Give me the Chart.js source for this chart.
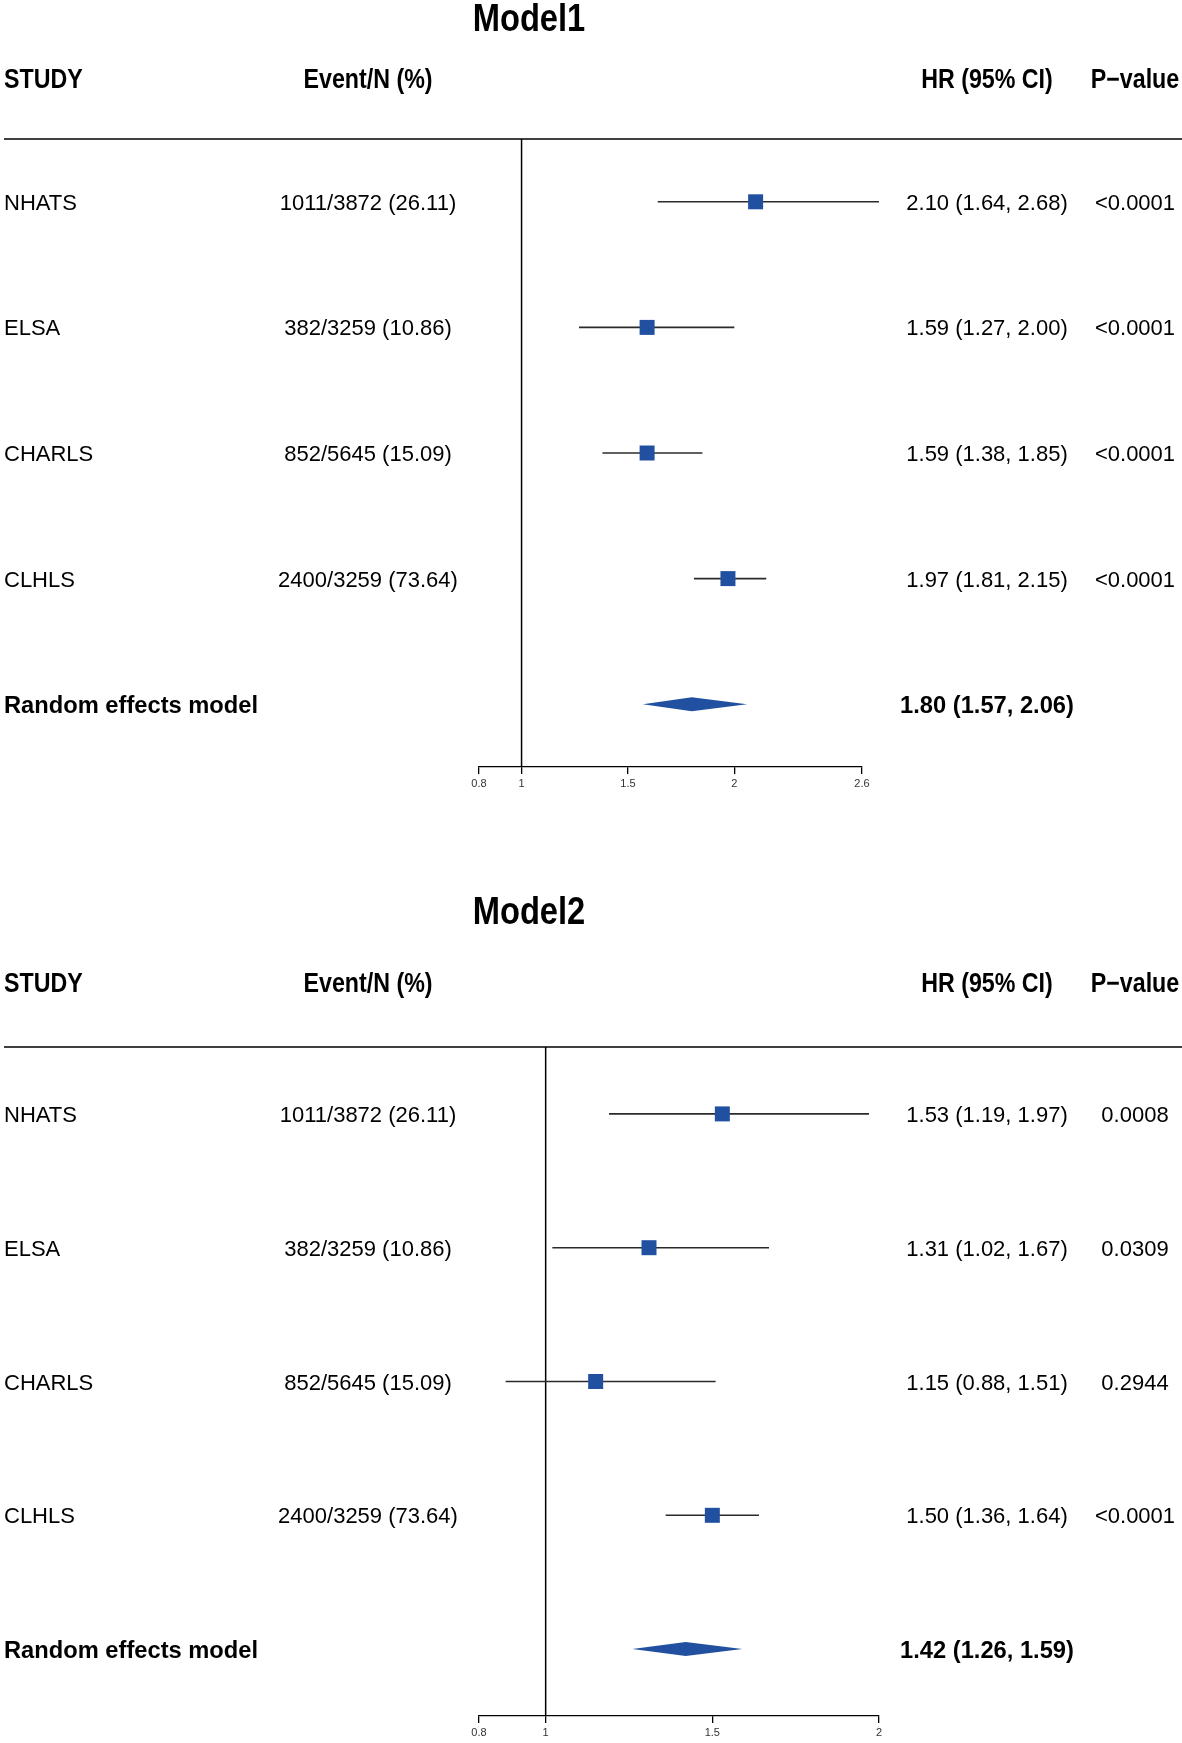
<!DOCTYPE html>
<html>
<head>
<meta charset="utf-8">
<script src="https://cdn.jsdelivr.net/npm/chart.js@4.4.1/dist/chart.umd.min.js"></script>
<style>
  html, body { margin: 0; padding: 0; background: #fff; overflow: hidden; }
  .wrap { position: absolute; left: 0; }
  canvas { display: block; }
</style>
</head>
<body>
<div class="wrap" style="top:0"><canvas id="model1" width="1182" height="820"></canvas></div>
<div class="wrap" style="top:820px"><canvas id="model2" width="1182" height="923"></canvas></div>
<script>
// ==== data ====
var studies = ["NHATS", "ELSA", "CHARLS", "CLHLS"];
var events = ["1011/3872 (26.11)", "382/3259 (10.86)", "852/5645 (15.09)", "2400/3259 (73.64)"];

var m1Hr = [2.10, 1.59, 1.59, 1.97];
var m1Lo = [1.64, 1.27, 1.38, 1.81];
var m1Hi = [2.68, 2.00, 1.85, 2.15];
var m1P = ["<0.0001", "<0.0001", "<0.0001", "<0.0001"];
var m1Pooled = [1.80, 1.57, 2.06];
var m1Ticks = [0.8, 1, 1.5, 2, 2.6];

var m2Hr = [1.53, 1.31, 1.15, 1.50];
var m2Lo = [1.19, 1.02, 0.88, 1.36];
var m2Hi = [1.97, 1.67, 1.51, 1.64];
var m2P = ["0.0008", "0.0309", "0.2944", "<0.0001"];
var m2Pooled = [1.42, 1.26, 1.59];
var m2Ticks = [0.8, 1, 1.5, 2];

var pooledLabel = "Random effects model";
var headers = ["STUDY", "Event/N (%)", "HR (95% CI)", "P\u2212value"];

var BLUE = "#2150a0";
var SANS = "'Liberation Sans', Arial, sans-serif";
var SQUEEZE = 0.86; // no narrow face installed, so squash the bold one

function fmtCI(h, l, u) {
  return h.toFixed(2) + " (" + l.toFixed(2) + ", " + u.toFixed(2) + ")";
}

function narrowText(ctx, text, x, y, align) {
  ctx.save();
  ctx.translate(x, y);
  ctx.scale(SQUEEZE, 1);
  ctx.textAlign = align;
  ctx.fillText(text, 0, 0);
  ctx.restore();
}

// text columns, header rule and pooled diamond
function forestPlugin(m) {
  return {
    id: "forestText",
    afterDatasetsDraw: function (chart) {
      var ctx = chart.ctx, xs = chart.scales.x, ys = chart.scales.y;
      var area = chart.chartArea;
      ctx.save();

      // diamond
      var yp = ys.getPixelForValue(studies.length);
      ctx.beginPath();
      ctx.moveTo(xs.getPixelForValue(m.pooled[1]), yp);
      ctx.lineTo(xs.getPixelForValue(m.pooled[0]), yp - 7);
      ctx.lineTo(xs.getPixelForValue(m.pooled[2]), yp);
      ctx.lineTo(xs.getPixelForValue(m.pooled[0]), yp + 7);
      ctx.closePath();
      ctx.fillStyle = BLUE;
      ctx.fill();

      // rule under header
      ctx.strokeStyle = "#000";
      ctx.lineWidth = 1.5;
      ctx.beginPath();
      ctx.moveTo(4, area.top);
      ctx.lineTo(1182, area.top);
      ctx.stroke();

      ctx.fillStyle = "#000";
      ctx.textBaseline = "alphabetic";

      // title
      ctx.font = "bold 38px " + SANS;
      narrowText(ctx, m.title, 529, m.titleY, "center");

      // headers
      ctx.font = "bold 27px " + SANS;
      narrowText(ctx, headers[0], 4, m.headY, "left");
      narrowText(ctx, headers[1], 368, m.headY, "center");
      narrowText(ctx, headers[2], 987, m.headY, "center");
      narrowText(ctx, headers[3], 1135, m.headY, "center");

      // study rows
      ctx.font = "22px " + SANS;
      for (var i = 0; i < studies.length; i++) {
        var y = ys.getPixelForValue(i) + 8;
        ctx.textAlign = "left";
        ctx.fillText(studies[i], 4, y);
        ctx.textAlign = "center";
        ctx.fillText(events[i], 368, y);
        ctx.fillText(fmtCI(m.hr[i], m.lo[i], m.hi[i]), 987, y);
        ctx.fillText(m.p[i], 1135, y);
      }

      // pooled row
      ctx.font = "bold 23.7px " + SANS;
      ctx.textAlign = "left";
      ctx.fillText(pooledLabel, 4, yp + 8.5);
      ctx.textAlign = "center";
      ctx.fillText(fmtCI(m.pooled[0], m.pooled[1], m.pooled[2]), 987, yp + 8.5);

      ctx.restore();
    }
  };
}

function buildForest(id, m) {
  var datasets = [];
  datasets.push({
    type: "scatter",
    data: m.hr.map(function (v, i) { return { x: v, y: i }; }),
    pointStyle: "rect",
    pointRadius: 10.6,
    backgroundColor: BLUE,
    borderWidth: 0,
    order: 0
  });
  for (var i = 0; i < studies.length; i++) {
    datasets.push({
      type: "line",
      data: [{ x: m.lo[i], y: i }, { x: m.hi[i], y: i }],
      borderColor: "#2b2b2b",
      borderWidth: 1.6,
      pointRadius: 0,
      clip: false,
      order: 1
    });
  }
  // reference line at HR = 1
  datasets.push({
    type: "line",
    data: [{ x: 1, y: -0.5 }, { x: 1, y: studies.length + 0.5 }],
    borderColor: "#000",
    borderWidth: 1.5,
    pointRadius: 0,
    order: 2
  });

  return new Chart(document.getElementById(id).getContext("2d"), {
    type: "scatter",
    data: { datasets: datasets },
    options: {
      responsive: false,
      animation: false,
      events: [],
      layout: { padding: { left: 479, right: 1182 - m.right, top: m.top, bottom: m.bottom } },
      plugins: { legend: { display: false }, tooltip: { enabled: false } },
      scales: {
        x: {
          type: "linear",
          min: m.ticks[0],
          max: m.ticks[m.ticks.length - 1],
          afterBuildTicks: function (s) {
            s.ticks = m.ticks.map(function (v) { return { value: v }; });
          },
          afterFit: function (s) { s.height = 24; },
          grid: { drawOnChartArea: false, drawTicks: true, tickLength: 7, color: "#000", lineWidth: 1.3 },
          border: { display: true, color: "#000", width: 1.3 },
          ticks: {
            padding: 3,
            autoSkip: false,
            maxRotation: 0,
            color: "#333",
            font: { family: SANS, size: 11 },
            callback: function (v) { return String(v); }
          }
        },
        y: {
          type: "linear",
          min: -0.5,
          max: studies.length + 0.5,
          reverse: true,
          display: false
        }
      }
    },
    plugins: [forestPlugin(m)]
  });
}

buildForest("model1", {
  title: "Model1", titleY: 31, headY: 88,
  top: 139, bottom: 29, right: 862,
  hr: m1Hr, lo: m1Lo, hi: m1Hi, p: m1P, pooled: m1Pooled, ticks: m1Ticks
});

buildForest("model2", {
  title: "Model2", titleY: 104, headY: 172,
  top: 227, bottom: 3, right: 879,
  hr: m2Hr, lo: m2Lo, hi: m2Hi, p: m2P, pooled: m2Pooled, ticks: m2Ticks
});
</script>
</body>
</html>
